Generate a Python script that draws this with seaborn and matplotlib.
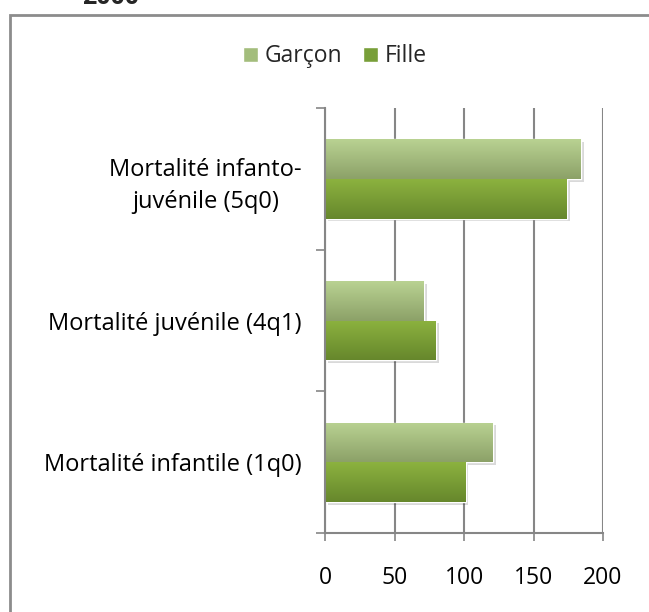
import numpy as np
import pandas as pd
import matplotlib
matplotlib.use("Agg")
import matplotlib.pyplot as plt
import matplotlib.patheffects as pe
from matplotlib.patches import Rectangle, Patch
from matplotlib.colors import LinearSegmentedColormap, to_hex
import seaborn as sns

# ---- data ----
categories = [
    "Mortalité infanto-\njuvénile (5q0)",
    "Mortalité juvénile (4q1)",
    "Mortalité infantile (1q0)",
]
sexes = ["Garçon", "Fille"]
garcon = [184, 71, 121]
fille = [174, 80, 101]
x_ticks = [0, 50, 100, 150, 200]

df = pd.DataFrame({
    "categorie": categories * 2,
    "sexe": [sexes[0]] * 3 + [sexes[1]] * 3,
    "valeur": garcon + fille,
})

sns.set_theme(style="white")
plt.rcParams["font.family"] = ["Open Sans", "DejaVu Sans"]

GRID = "#868686"
palette = {"Garçon": "#a3bd7c", "Fille": "#789f39"}
gradients = {"Garçon": ("#b9d292", "#8ca168"), "Fille": ("#8cb23f", "#66872c")}

fig = plt.figure(figsize=(6.49, 6.12), dpi=100)
ax = fig.add_axes([0.5015, 0.129, 0.4275, 0.6945])

sns.barplot(
    data=df, y="categorie", x="valeur", hue="sexe",
    order=categories, hue_order=sexes, palette=palette,
    orient="h", width=0.56, gap=0, saturation=1,
    legend=False, ax=ax
)

# gradient fill + soft shadow on each bar
grad = np.linspace(0, 1, 128).reshape(-1, 1)
for bar in list(ax.patches):
    fc = to_hex(bar.get_facecolor())
    sexe = "Garçon" if fc == palette["Garçon"] else "Fille"
    cmap = LinearSegmentedColormap.from_list(sexe, gradients[sexe])
    bar.set_path_effects([
        pe.SimplePatchShadow(offset=(2, -2), shadow_rgbFace="#000000", alpha=0.15),
        pe.Normal(),
    ])
    x0, y0 = bar.get_x(), bar.get_y()
    w, h = bar.get_width(), bar.get_height()
    im = ax.imshow(
        grad, extent=(x0, x0 + w, y0 + h, y0), origin="upper",
        aspect="auto", cmap=cmap, zorder=bar.get_zorder() + 0.1
    )
    im.set_clip_path(bar)

ax.set_xlim(0, 200)
ax.set_ylim(2.5, -0.5)
ax.set_xticks(x_ticks)
ax.set_xlabel("")
ax.set_ylabel("")

ax.xaxis.grid(True, color=GRID, lw=1.5)
ax.yaxis.grid(False)
ax.set_axisbelow(True)

for side in ["top", "right"]:
    ax.spines[side].set_visible(False)
for side in ["left", "bottom"]:
    ax.spines[side].set_color(GRID)
    ax.spines[side].set_linewidth(1.5)

ax.tick_params(axis="x", bottom=True, length=6, width=1.2, color=GRID,
               direction="out", pad=18, labelsize=16.5, labelcolor="black")
ax.tick_params(axis="y", which="major", left=True, length=0, pad=17,
               labelsize=17, labelcolor="black")
ax.set_yticks([-0.5, 0.5, 1.5, 2.5], minor=True)
ax.tick_params(axis="y", which="minor", left=True, length=6.5, width=1.2,
               color=GRID, direction="out")
for lab in ax.get_yticklabels():
    lab.set_multialignment("center")
    lab.set_linespacing(1.45)

handles = [
    Patch(facecolor=palette["Garçon"], label="Garçon"),
    Patch(facecolor=palette["Fille"], label="Fille"),
]
fig.legend(
    handles=handles, loc="center", bbox_to_anchor=(0.516, 0.908),
    ncol=2, frameon=False, fontsize=16.5, handlelength=0.65,
    handleheight=0.65, handletextpad=0.3, columnspacing=0.9
)

# chart frame (cut off on the right and bottom) and clipped title above it
fig.add_artist(Rectangle(
    (10 / 649, -0.1), 1.2, 1 - 15 / 612 + 0.1,
    transform=fig.transFigure, fill=False, ec="#8c8c8c", lw=2
))
fig.text(82 / 649, 1 - 3.5 / 612, "2000", fontweight="bold", fontsize=18,
         ha="left", va="baseline")

fig.savefig("out.png", dpi=100)
